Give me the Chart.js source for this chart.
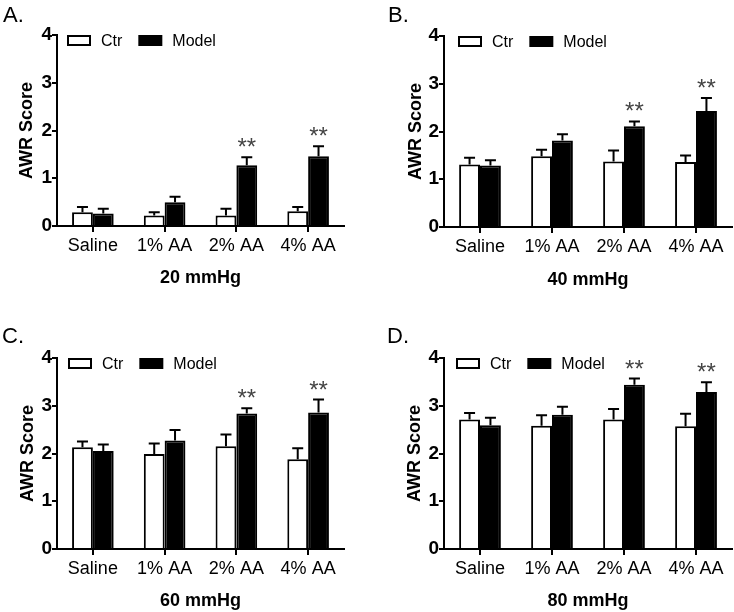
<!DOCTYPE html>
<html>
<head>
<meta charset="utf-8">
<script src="https://cdn.jsdelivr.net/npm/chart.js@4.4.1/dist/chart.umd.min.js"></script>
<style>
  body { margin: 0; background: #fff; }
  #wrap { position: relative; width: 734px; height: 612px; }
  .panel { position: absolute; width: 367px; height: 306px; }
  .letter { position: absolute; font-family: "Liberation Sans", Arial, sans-serif; font-size: 22px; line-height: 1; color: #000; }
</style>
</head>
<body>
<div id="wrap">
  <div class="panel" style="left:0;top:0"><canvas id="chartA" width="367" height="306"></canvas></div>
  <div class="panel" style="left:367px;top:0"><canvas id="chartB" width="367" height="306"></canvas></div>
  <div class="panel" style="left:0;top:306px"><canvas id="chartC" width="367" height="306"></canvas></div>
  <div class="panel" style="left:367px;top:306px"><canvas id="chartD" width="367" height="306"></canvas></div>
  <div class="letter" style="left:3px;top:4px">A.</div>
  <div class="letter" style="left:388px;top:4px">B.</div>
  <div class="letter" style="left:2px;top:325px">C.</div>
  <div class="letter" style="left:387px;top:325px">D.</div>
</div>
<script>
// categories and series
const categories = ['Saline', '1% AA', '2% AA', '4% AA'];
const seriesNames = ['Ctr', 'Model'];
const yTitle = 'AWR Score';
const pressureTitles = ['20 mmHg', '40 mmHg', '60 mmHg', '80 mmHg'];

// mean and SEM (upper whisker)
const ctr20 = [0.29, 0.22, 0.22, 0.31];
const ctr20Sem = [0.11, 0.07, 0.14, 0.09];
const model20 = [0.26, 0.50, 1.27, 1.46];
const model20Sem = [0.10, 0.11, 0.17, 0.21];

const ctr40 = [1.31, 1.48, 1.37, 1.36];
const ctr40Sem = [0.14, 0.14, 0.23, 0.14];
const model40 = [1.29, 1.81, 2.11, 2.43];
const model40Sem = [0.11, 0.13, 0.10, 0.27];

const ctr60 = [2.13, 1.99, 2.15, 1.88];
const ctr60Sem = [0.12, 0.22, 0.25, 0.23];
const model60 = [2.05, 2.27, 2.84, 2.86];
const model60Sem = [0.14, 0.22, 0.11, 0.27];

const ctr80 = [2.71, 2.58, 2.71, 2.57];
const ctr80Sem = [0.14, 0.22, 0.22, 0.26];
const model80 = [2.59, 2.81, 3.44, 3.29];
const model80Sem = [0.16, 0.17, 0.13, 0.20];

const modelStars = ['', '', '**', '**'];

const FONT = '"Liberation Sans", Arial, sans-serif';
const W = 367, H = 306;

// whiskers + significance stars
const semBars = {
  id: 'semBars',
  afterDatasetsDraw(chart) {
    const ctx = chart.ctx;
    const y = chart.scales.y;
    ctx.save();
    chart.data.datasets.forEach((ds, i) => {
      const meta = chart.getDatasetMeta(i);
      meta.data.forEach((bar, j) => {
        const top = y.getPixelForValue(ds.data[j] + ds.sem[j]);
        ctx.strokeStyle = '#000';
        ctx.lineWidth = 2;
        ctx.beginPath();
        ctx.moveTo(bar.x, bar.y);
        ctx.lineTo(bar.x, top);
        ctx.moveTo(bar.x - 5.5, top);
        ctx.lineTo(bar.x + 5.5, top);
        ctx.stroke();
        if (ds.stars && ds.stars[j]) {
          ctx.fillStyle = '#444';
          ctx.font = '24px ' + FONT;
          ctx.textAlign = 'center';
          ctx.textBaseline = 'alphabetic';
          ctx.fillText(ds.stars[j], bar.x, top - 2);
        }
      });
    });
    ctx.restore();
  }
};

// legend drawn inside the plot area, top left
const boxLegend = {
  id: 'boxLegend',
  afterDraw(chart) {
    const ctx = chart.ctx;
    const a = chart.chartArea;
    const dx = chart.options.plugins.boxLegend.dx;
    ctx.save();
    ctx.font = '16px ' + FONT;
    ctx.textBaseline = 'middle';
    ctx.textAlign = 'left';
    let x = a.left + dx;
    const yc = a.top + 5.5;
    chart.data.datasets.forEach(ds => {
      ctx.fillStyle = ds.backgroundColor;
      ctx.fillRect(x, yc - 4.5, 22, 9);
      ctx.strokeStyle = '#000';
      ctx.lineWidth = 2;
      ctx.strokeRect(x, yc - 4.5, 22, 9);
      ctx.fillStyle = '#000';
      ctx.fillText(ds.label, x + 33, yc + 1);
      x += 33 + ctx.measureText(ds.label).width + 17;
    });
    ctx.restore();
  }
};

function makePanel(box, ctr, ctrSem, model, modelSem, xTitle) {
  const lh = 21.6;
  const padLeft = box.yTitleX - lh / 2;
  const padBottom = H - (box.xTitleY + lh / 2);
  const ctx = document.getElementById(box.id).getContext('2d');
  new Chart(ctx, {
    type: 'bar',
    data: {
      labels: categories,
      datasets: [
        { label: seriesNames[0], data: ctr, sem: ctrSem, backgroundColor: '#fff', borderColor: '#000', borderWidth: 2 },
        { label: seriesNames[1], data: model, sem: modelSem, stars: modelStars, backgroundColor: '#000', borderColor: '#000', borderWidth: 2 }
      ]
    },
    options: {
      responsive: false,
      animation: false,
      devicePixelRatio: 1,
      datasets: { bar: { barPercentage: 1, categoryPercentage: 0.58 } },
      layout: { padding: { left: padLeft, right: W - box.right, top: box.top, bottom: padBottom } },
      plugins: {
        legend: { display: false },
        tooltip: { enabled: false },
        boxLegend: { dx: box.legendDx }
      },
      scales: {
        x: {
          grid: { drawOnChartArea: false, offset: false, color: '#000', lineWidth: 2, tickLength: 6 },
          border: { color: '#000', width: 2 },
          ticks: { color: '#000', font: { family: FONT, size: 18, lineHeight: 1.2 }, padding: 3, maxRotation: 0, autoSkip: false },
          title: { display: true, text: xTitle, color: '#000', font: { family: FONT, size: 18, weight: 'bold', lineHeight: 1.2 }, padding: 0 },
          afterFit(scale) { scale.height = box.xTitleY + lh / 2 - box.bottom; }
        },
        y: {
          min: 0,
          max: 4,
          grid: { drawOnChartArea: false, color: '#000', lineWidth: 2, tickLength: 5 },
          border: { color: '#000', width: 2 },
          ticks: { stepSize: 1, color: '#000', font: { family: FONT, size: 19, weight: 'bold' }, padding: 0 },
          title: { display: true, text: yTitle, color: '#000', font: { family: FONT, size: 18, weight: 'bold', lineHeight: 1.2 }, padding: 0 },
          afterFit(scale) { scale.width = box.left - padLeft; }
        }
      }
    },
    plugins: [semBars, boxLegend]
  });
}

const panelBoxes = [
  { id: 'chartA', left: 57, right: 344, top: 35, bottom: 226, yTitleX: 27, xTitleY: 278, legendDx: 11 },
  { id: 'chartB', left: 77, right: 365, top: 36, bottom: 227, yTitleX: 49, xTitleY: 280, legendDx: 15 },
  { id: 'chartC', left: 57, right: 344, top: 52, bottom: 243, yTitleX: 28, xTitleY: 295, legendDx: 12 },
  { id: 'chartD', left: 77, right: 365, top: 52, bottom: 243, yTitleX: 48, xTitleY: 295, legendDx: 13 }
];

makePanel(panelBoxes[0], ctr20, ctr20Sem, model20, model20Sem, pressureTitles[0]);
makePanel(panelBoxes[1], ctr40, ctr40Sem, model40, model40Sem, pressureTitles[1]);
makePanel(panelBoxes[2], ctr60, ctr60Sem, model60, model60Sem, pressureTitles[2]);
makePanel(panelBoxes[3], ctr80, ctr80Sem, model80, model80Sem, pressureTitles[3]);
</script>
</body>
</html>
